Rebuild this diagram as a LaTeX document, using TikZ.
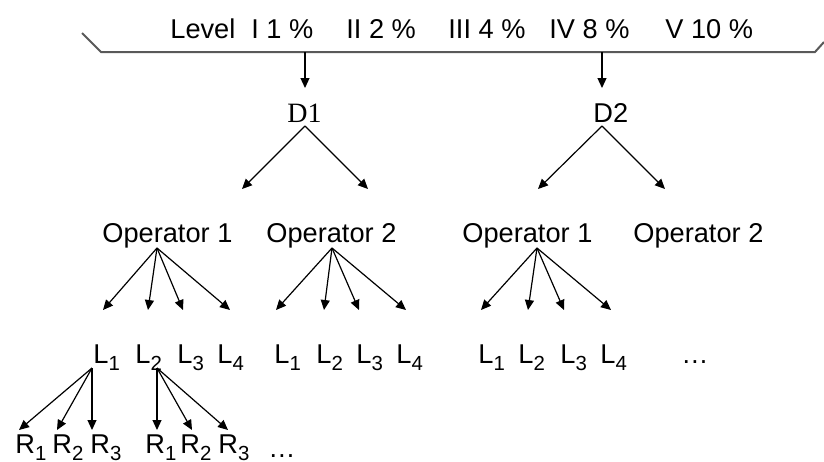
\documentclass[tikz,border=0pt]{standalone}
\usepackage{fontspec}
\setmainfont{Liberation Sans}
\newfontfamily\serifD{Liberation Serif}
\usetikzlibrary{arrows.meta}
\newcommand{\Sb}[2]{#1\raisebox{-0.26em}{\fontsize{10.2}{10.2}\selectfont #2}}
\begin{document}
\begin{tikzpicture}[x=0.5pt,y=-0.5pt,
  font=\fontsize{13.6}{16}\selectfont,
  lbl/.style={anchor=base west,inner sep=0pt},
  arr/.style={line width=0.6pt,-{Triangle[length=5pt,width=4.5pt]}},
  topline/.style={line width=1pt,draw=black!65}]
\useasboundingbox (0,0) rectangle (824,461);
% top bracket line
\coordinate (tl0) at (82,33);
\coordinate (tl1) at (101,52);
\coordinate (tr1) at (815,52);
\coordinate (tr0) at (824,42);
\draw[topline] (tl0) -- (tl1) -- (tr1) -- (tr0);
% level labels
\node[lbl] (lev) at (170,38) {Level};
\node[lbl] (lv1) at (251,38) {I 1 \%};
\node[lbl] (lv2) at (346,38) {II 2 \%};
\node[lbl] (lv3) at (448,38) {III 4 \%};
\node[lbl] (lv4) at (549,38) {IV 8 \%};
\node[lbl] (lv5) at (665,38) {V 10 \%};
% D nodes
\node[lbl,font=\serifD\fontsize{14}{16}\selectfont] (D1) at (287,122) {D1};
\node[lbl] (D2) at (593,122) {D2};
\coordinate (s1) at (305,52); \coordinate (s1t) at (305,88);
\coordinate (s2) at (602,52); \coordinate (s2t) at (602,88);
\draw[arr] (s1) -- (s1t);
\draw[arr] (s2) -- (s2t);
% operators
\node[lbl] (op11) at (102,242) {Operator 1};
\node[lbl] (op12) at (266,242) {Operator 2};
\node[lbl] (op21) at (462,242) {Operator 1};
\node[lbl] (op22) at (633,242) {Operator 2};
% D fans
\coordinate (d1s) at (305,126);
\coordinate (d1a) at (242,189); \coordinate (d1b) at (368,189);
\coordinate (d2s) at (602,126);
\coordinate (d2a) at (538,189); \coordinate (d2b) at (665,189);
\draw[arr] (d1s) -- (d1a);
\draw[arr] (d1s) -- (d1b);
\draw[arr] (d2s) -- (d2a);
\draw[arr] (d2s) -- (d2b);
% operator fans
\coordinate (f1s) at (157,248);
\coordinate (f2s) at (332,248);
\coordinate (f3s) at (537,248);
\foreach \n/\x in {a/103,b/148,c/183,d/230} {\coordinate (f1\n) at (\x,310); \draw[arr] (f1s) -- (f1\n);}
\foreach \n/\x in {a/276,b/324,c/359,d/406} {\coordinate (f2\n) at (\x,310); \draw[arr] (f2s) -- (f2\n);}
\foreach \n/\x in {a/481,b/528,c/564,d/611} {\coordinate (f3\n) at (\x,310); \draw[arr] (f3s) -- (f3\n);}
% L row
\node[lbl] (L11) at (93,363) {\Sb{L}{1}};
\node[lbl] (L12) at (135,363) {\Sb{L}{2}};
\node[lbl] (L13) at (177,363) {\Sb{L}{3}};
\node[lbl] (L14) at (217,363) {\Sb{L}{4}};
\node[lbl] (L21) at (274,363) {\Sb{L}{1}};
\node[lbl] (L22) at (316,363) {\Sb{L}{2}};
\node[lbl] (L23) at (356,363) {\Sb{L}{3}};
\node[lbl] (L24) at (396,363) {\Sb{L}{4}};
\node[lbl] (L31) at (478,363) {\Sb{L}{1}};
\node[lbl] (L32) at (518,363) {\Sb{L}{2}};
\node[lbl] (L33) at (560,363) {\Sb{L}{3}};
\node[lbl] (L34) at (600,363) {\Sb{L}{4}};
\node[lbl] (Ldots) at (681,363) {…};
% L fans
\coordinate (g1s) at (92,368);
\coordinate (g2s) at (157,368);
\foreach \n/\x in {a/19,b/57,c/92} {\coordinate (g1\n) at (\x,430); \draw[arr] (g1s) -- (g1\n);}
\foreach \n/\x in {a/157,b/192,c/228} {\coordinate (g2\n) at (\x,430); \draw[arr] (g2s) -- (g2\n);}
% R row
\node[lbl] (R11) at (15,453) {\Sb{R}{1}};
\node[lbl] (R12) at (52,453) {\Sb{R}{2}};
\node[lbl] (R13) at (90,453) {\Sb{R}{3}};
\node[lbl] (R21) at (145,453) {\Sb{R}{1}};
\node[lbl] (R22) at (180,453) {\Sb{R}{2}};
\node[lbl] (R23) at (218,453) {\Sb{R}{3}};
\node[lbl] (Rdots) at (268,457) {…};
\end{tikzpicture}
\end{document}
